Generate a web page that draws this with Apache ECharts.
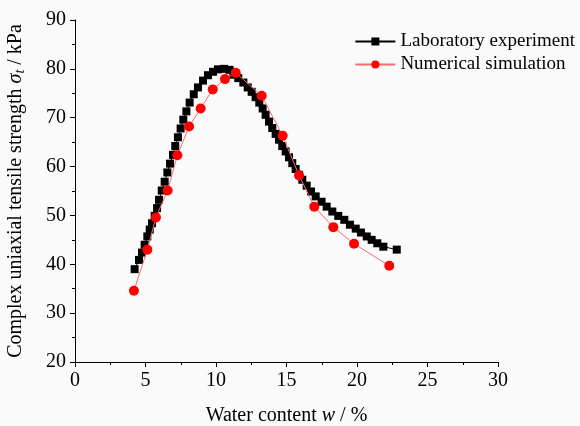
<!DOCTYPE html>
<html><head><meta charset="utf-8">
<script src="https://cdn.jsdelivr.net/npm/echarts@6/dist/echarts.min.js"></script>
<style>html,body{margin:0;padding:0;background:#fafafa}#c{width:580px;height:426px}</style>
</head><body><div id="c"></div>
<script>
// Laboratory experiment
const labW = [4.23,4.54,4.75,4.94,5.13,5.30,5.46,5.65,5.82,5.96,6.15,6.36,6.55,6.74,6.95,7.11,7.30,7.49,7.68,7.90,8.13,8.42,8.72,9.08,9.43,9.79,10.14,10.57,10.97,11.23,11.58,11.94,12.25,12.53,12.81,13.07,13.31,13.52,13.76,13.99,14.23,14.47,14.70,14.94,15.18,15.41,15.65,15.89,16.12,16.43,16.74,17.07,17.49,17.85,18.25,18.67,19.10,19.50,19.91,20.28,20.69,21.04,21.44,21.87,22.82];
const labS = [39.0,40.9,42.4,44.0,45.7,47.1,48.4,49.9,51.5,53.2,55.1,56.9,58.8,60.6,62.4,64.2,66.0,67.8,69.6,71.3,73.1,74.8,76.2,77.6,78.7,79.4,79.9,80.0,79.8,78.8,78.1,77.2,76.2,75.3,74.2,73.1,71.9,70.6,69.2,67.9,66.7,65.5,64.2,63.1,61.9,60.7,59.5,58.3,57.3,56.1,54.9,53.9,52.8,51.8,50.8,49.9,49.1,48.1,47.3,46.5,45.7,45.0,44.3,43.6,43.0];
// Numerical simulation
const simW = [4.18,5.13,5.74,6.57,7.26,8.09,8.91,9.77,10.64,11.40,13.24,14.73,15.89,16.97,18.32,19.79,22.29];
const simS = [34.6,43.0,49.6,55.1,62.3,68.2,71.9,75.8,77.9,79.2,74.5,66.3,58.2,51.8,47.6,44.2,39.7];
const xTicks = [0,30,5];
const yTicks = [20,90,10];

const font = '"Liberation Serif", "Times New Roman", serif';
const chart = echarts.init(document.getElementById('c'));
const axisCommon = {
  axisLine:{show:true,lineStyle:{color:'#000',width:1}},
  axisTick:{show:true,inside:false,length:5,lineStyle:{color:'#000'}},
  minorTick:{show:true,splitNumber:2,length:3,lineStyle:{color:'#000'}},
  splitLine:{show:false},
  axisLabel:{color:'#000',fontFamily:font,fontSize:20,margin:9}
};
chart.setOption({
  backgroundColor:'#fafafa',
  animation:false,
  grid:{left:75,right:82,top:20,bottom:64,containLabel:false,outerBoundsMode:'none'},
  legend:{
    right:0, top:27, orient:'vertical', itemGap:4, itemWidth:40, itemHeight:10,
    textStyle:{fontFamily:font,fontSize:19,color:'#000'},
    data:['Laboratory experiment','Numerical simulation']
  },
  xAxis:Object.assign({type:'value',min:xTicks[0],max:xTicks[1],interval:xTicks[2],
    name:'{a|Water content }{i|w}{a| / %}',nameLocation:'middle',nameGap:44,
    nameTextStyle:{rich:{a:{fontFamily:font,fontSize:20,color:'#000'},i:{fontFamily:font,fontSize:20,fontStyle:'italic',color:'#000'}}}
  },axisCommon),
  yAxis:Object.assign({type:'value',min:yTicks[0],max:yTicks[1],interval:yTicks[2],
    name:'{a|Complex uniaxial tensile strength }{i|σ}{s|t}{a| / kPa}',nameLocation:'middle',nameGap:48,
    nameTextStyle:{rich:{a:{fontFamily:font,fontSize:20,color:'#000'},i:{fontFamily:font,fontSize:20,fontStyle:'italic',color:'#000'},s:{fontFamily:font,fontSize:14,fontStyle:'italic',color:'#000',padding:[9,0,0,0]}}}
  },axisCommon),
  series:[
    {name:'Laboratory experiment',type:'line',data:labW.map((w,i)=>[w,labS[i]]),
     symbol:'rect',symbolSize:8,showAllSymbol:true,
     itemStyle:{color:'#000'},lineStyle:{color:'#000',width:1},z:2},
    {name:'Numerical simulation',type:'line',data:simW.map((w,i)=>[w,simS[i]]),
     symbol:'circle',symbolSize:10,showAllSymbol:true,
     itemStyle:{color:'#ff0000'},lineStyle:{color:'#ff6a6a',width:1},z:3}
  ]
});
</script></body></html>
